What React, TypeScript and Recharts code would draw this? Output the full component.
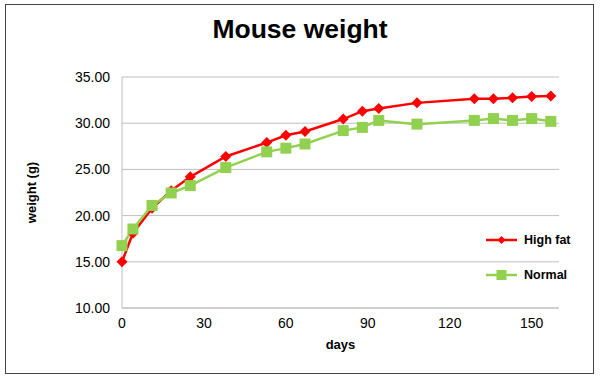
import { LineChart, Line, XAxis, YAxis, CartesianGrid, Label } from "recharts";

const days = [0, 4, 11, 18, 25, 38, 53, 60, 67, 81, 88, 94, 108, 129, 136, 143, 150, 157];
const highFat = [15.0, 18.1, 20.8, 22.7, 24.2, 26.4, 27.9, 28.7, 29.1, 30.45, 31.3, 31.6, 32.2, 32.65, 32.65, 32.75, 32.9, 32.95];
const normal = [16.75, 18.55, 21.1, 22.45, 23.25, 25.2, 26.9, 27.3, 27.75, 29.2, 29.55, 30.3, 29.9, 30.3, 30.5, 30.3, 30.5, 30.2];
const xTicks = [0, 30, 60, 90, 120, 150];
const yTicks = [10, 15, 20, 25, 30, 35];

const RED = "#ff0000";
const GREEN = "#92d050";
const FONT = "'Liberation Sans', Arial, sans-serif";

const data = days.map((d, i) => ({ day: d, highFat: highFat[i], normal: normal[i] }));

const Diamond = (props: any) => {
  const { cx, cy } = props;
  if (cx == null || cy == null) return null;
  const r = 5.5;
  return (
    <polygon
      points={`${cx},${cy - r} ${cx + r},${cy} ${cx},${cy + r} ${cx - r},${cy}`}
      fill={RED}
    />
  );
};

const Square = (props: any) => {
  const { cx, cy } = props;
  if (cx == null || cy == null) return null;
  const r = 5.5;
  return <rect x={cx - r} y={cy - r} width={r * 2} height={r * 2} fill={GREEN} />;
};

const legendItems = [
  { label: "High fat", color: RED, shape: "diamond" },
  { label: "Normal", color: GREEN, shape: "square" },
];

const LegendBox = () => (
  <div
    style={{
      position: "absolute",
      left: 486,
      top: 222,
      fontFamily: FONT,
      fontWeight: "bold",
      fontSize: 12.5,
    }}
  >
    {legendItems.map((it) => (
      <div key={it.label} style={{ display: "flex", alignItems: "center", height: 35.5 }}>
        <svg width={38} height={14}>
          <line x1={0} y1={7} x2={31} y2={7} stroke={it.color} strokeWidth={2.5} />
          {it.shape === "diamond" ? (
            <polygon points="15.5,3 19.5,7 15.5,11 11.5,7" fill={it.color} />
          ) : (
            <rect x={10.5} y={2} width={10} height={10} fill={it.color} />
          )}
        </svg>
        <span style={{ color: "#000" }}>{it.label}</span>
      </div>
    ))}
  </div>
);

export default function App() {
  return (
    <div style={{ position: "absolute", left: 0, top: 0, width: 600, height: 382, background: "#fff" }}>
      <div
        style={{
          position: "absolute",
          left: 5,
          top: 4,
          width: 587,
          height: 368,
          border: "1.5px solid #444",
        }}
      />
      <div
        style={{
          position: "absolute",
          left: 0,
          top: 14,
          width: 600,
          textAlign: "center",
          fontFamily: FONT,
          fontWeight: "bold",
          fontSize: 26.5,
          color: "#000",
        }}
      >
        Mouse weight
      </div>
      <div style={{ position: "absolute", left: 0, top: 0 }}>
        <LineChart
          width={600}
          height={382}
          data={data}
          margin={{ top: 77, right: 41, bottom: 44, left: 62 }}
        >
          <CartesianGrid vertical={false} stroke="#bfbfbf" strokeWidth={1} />
          <XAxis
            dataKey="day"
            type="number"
            domain={[0, 160]}
            ticks={xTicks}
            tickLine={false}
            tickSize={0}
            tickMargin={10}
            stroke="#bfbfbf"
            height={30}
            tick={{ fill: "#000", fontSize: 14, fontFamily: FONT }}
          >
            <Label
              value="days"
              position="bottom"
              offset={2}
              style={{ fill: "#000", fontWeight: "bold", fontSize: 13, fontFamily: FONT }}
            />
          </XAxis>
          <YAxis
            type="number"
            domain={[10, 35]}
            ticks={yTicks}
            tickFormatter={(v: number) => v.toFixed(2)}
            tickLine={false}
            tickSize={0}
            tickMargin={12}
            stroke="#bfbfbf"
            width={60}
            tick={{ fill: "#000", fontSize: 14, fontFamily: FONT }}
          >
            <Label
              value="weight (g)"
              angle={-90}
              position="insideLeft"
              offset={-31}
              style={{ fill: "#000", fontWeight: "bold", fontSize: 13, fontFamily: FONT, textAnchor: "middle" }}
            />
          </YAxis>
          <Line
            dataKey="highFat"
            name="High fat"
            stroke={RED}
            strokeWidth={2.5}
            dot={<Diamond />}
            activeDot={false}
            isAnimationActive={false}
          />
          <Line
            dataKey="normal"
            name="Normal"
            stroke={GREEN}
            strokeWidth={2.5}
            dot={<Square />}
            activeDot={false}
            isAnimationActive={false}
          />
        </LineChart>
      </div>
      <LegendBox />
    </div>
  );
}
